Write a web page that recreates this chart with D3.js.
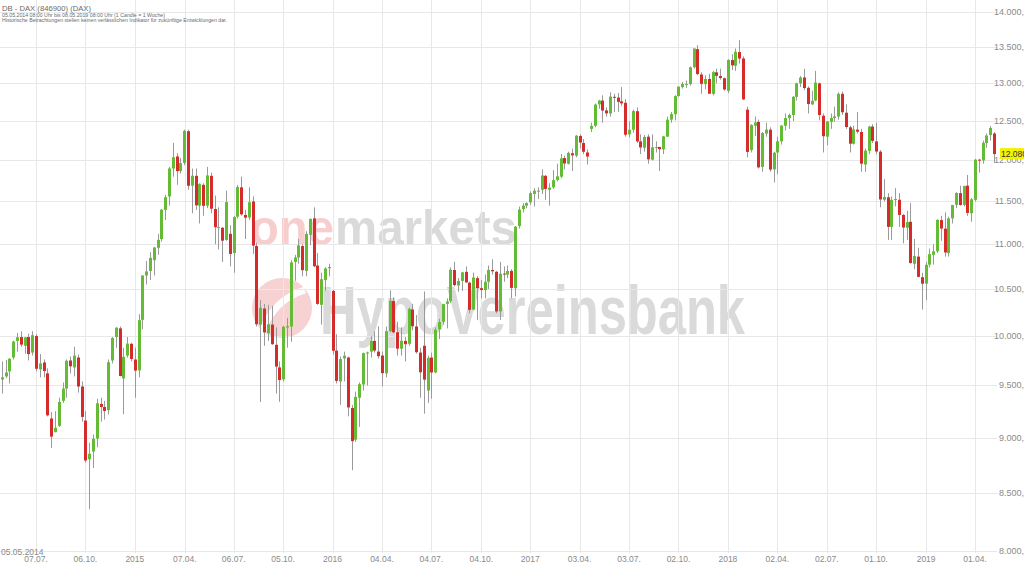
<!DOCTYPE html>
<html><head><meta charset="utf-8">
<script src="https://cdn.jsdelivr.net/npm/d3@7"></script>
<style>body{margin:0;background:#fff;overflow:hidden}svg{display:block}</style>
</head><body><svg id="c" width="1024" height="566"></svg>
<script>
// ---- data (weekly candles, DAX, 1 candle = 1 week) ----
const firstWeek = "2014-05-05";
const lastWeek = "2019-05-06";
const opens = [
9560,9590,9640,9780,9950,9990,9900,9990,9830,10000,9660,9730,9620,9180,9050,9110,9350,9470,9750,9680,9780,9490,9160,8800,8870,8990,9320,9290,9260,9750,9990,10080,9570,9800,9920,
9760,9650,10170,10650,10700,10820,10960,11060,11400,11560,11900,12050,11870,11970,12370,11690,11810,11450,11700,11450,11810,11410,11190,11190,11050,11120,10900,11320,11670,11340,11310,11500,10980,10120,10290,10030,10120,9910,9680,9560,10090,10100,10800,10850,10980,10700,11110,11300,10760,10330,10600,10730,
10480,9850,9540,9770,9780,9280,8980,9380,9510,9820,9840,9950,9840,9800,9620,10050,10370,10040,9870,9950,9920,10280,10100,9830,9900,9450,9780,9630,10070,10150,10340,10370,10710,10540,10590,10690,10570,10280,10620,10510,10490,10580,10710,10690,10260,10670,10660,10700,10510,11210,11410,11450,
11490,11590,11620,11640,11810,11640,11670,11760,11800,12030,11960,12090,12060,12310,12220,12100,12400,12440,12720,12770,12640,12600,12820,12810,12760,12740,12330,12390,12630,12240,12160,12300,12010,12160,12170,12140,12300,12520,12590,12830,12950,12990,12990,13220,13470,13120,12990,13060,12860,13150,13100,13070,
12900,13320,13240,13430,13340,12650,12130,12440,12490,11920,12340,12390,11890,12100,12240,12440,12540,12580,12820,13000,13080,12940,12720,12770,13000,12570,12300,12490,12540,12560,12860,12610,12420,12210,12390,12360,11950,12120,12430,12240,12110,11520,11550,11200,11520,11520,11340,11190,11260,10780,10860,10630,
10560,10770,10880,10920,11280,11180,10900,11300,11460,11600,11460,11690,11360,11520,12010,12000,12220,12320,12340];
const highs = [
9740,9754,9772,9953,10031,10050,9990,10025,10051,10020,9815,9760,9670,9240,9250,9380,9530,9760,9790,9890,9810,9540,9250,8950,9030,9370,9380,9350,9760,9990,10094,10100,9880,9990,9930,
9880,10230,10650,10810,10910,10970,11120,11410,11580,11920,12220,12090,12030,12390,12390,11900,11900,11720,11720,11920,11850,11570,11430,11200,11630,11220,11330,11700,11800,11400,11670,11560,11020,10380,10340,10330,10320,10090,9740,10110,10190,10820,10880,11060,11000,11150,11300,11430,10900,10680,10740,10780,
10490,10020,9790,9840,9790,9310,9440,9530,9830,9840,10000,10050,10100,9840,10100,10486,10410,10150,10090,9990,10300,10340,10220,9880,10474,9800,9830,10090,10180,10340,10400,10740,10800,10620,10690,10750,10580,10680,10640,10600,10660,10760,10830,10700,10800,10750,10760,10720,11210,11440,11480,11490,
11620,11660,11670,11890,11820,11720,11880,11960,12080,12060,12110,12150,12320,12330,12270,12140,12480,12730,12780,12840,12680,12880,12860,12870,12950,12790,12500,12650,12680,12330,12320,12330,12330,12240,12170,12310,12560,12620,12840,12960,13020,13040,13230,13480,13526,13150,13110,13130,13170,13200,13200,13080,
13330,13400,13480,13597,13370,12690,12460,12560,12520,12360,12480,12420,12110,12300,12450,12600,12600,12830,13010,13100,13200,12960,12900,13170,13010,12600,12500,12600,12690,12880,12890,12720,12440,12440,12620,12400,12150,12440,12460,12480,12130,11770,11600,11560,11660,11600,11350,11390,11480,11060,10960,10680,
10800,10950,11000,11290,11330,11370,11320,11460,11610,11690,11690,11820,11540,12020,12020,12250,12340,12436,12360];
const lows = [
9420,9574,9520,9760,9840,9890,9820,9750,9800,9640,9580,9580,9200,8903,9050,9100,9330,9380,9620,9590,9430,9150,8770,8355,8720,8910,9150,9170,9220,9720,9880,9590,9220,9780,9740,
9380,9580,10070,10550,10600,10650,10880,11030,11280,11450,11800,11700,11840,11940,11640,11360,11400,11240,11330,11420,11360,11000,10940,10800,11040,10750,10680,11300,11330,11060,11280,10890,10100,9338,9900,9950,9910,9420,9340,9540,9880,9940,10590,10780,10640,10640,10990,10740,10330,10120,10480,10640,
9810,9520,9310,9540,9200,8700,8960,9100,9450,9500,9780,9830,9770,9490,9580,10040,10030,9800,9800,9740,9900,10060,9820,9380,9226,9330,9370,9620,9970,10120,10080,10350,10530,10470,10480,10570,10240,10270,10170,10400,10400,10500,10660,10240,10170,10580,10620,10400,10420,11180,11370,11420,
11460,11440,11530,11590,11520,11450,11650,11740,11780,11890,11950,11870,12040,12150,12080,11950,12360,12420,12660,12480,12560,12560,12620,12620,12700,12300,12290,12350,12220,12080,12110,11960,12000,12100,11870,12080,12300,12480,12510,12820,12930,12940,12970,13200,13110,12860,12920,12860,12840,13000,13050,12900,
12870,13180,13170,13270,12780,12040,12100,12310,11900,11860,12300,11860,11730,11830,12200,12380,12400,12500,12770,12950,12910,12600,12710,12760,12510,12100,12190,12400,12490,12520,12580,12400,12100,12200,12340,11860,11860,12080,12220,12080,11430,11500,11050,11050,11440,11200,11010,11050,10780,10720,10630,10279,
10380,10740,10770,10900,11040,10860,10860,11240,11420,11450,11440,11330,11260,11500,11850,11960,12160,12250,11970];
const closes = [
9581,9629,9768,9943,9987,9912,9987,9815,10009,9666,9720,9644,9210,9009,9092,9339,9470,9747,9691,9799,9490,9195,8788,8850,8988,9326,9291,9252,9732,9980,10087,9594,9787,9922,9765,
9648,10167,10649,10694,10846,10963,11050,11402,11551,11901,12040,11868,11967,12375,11689,11811,11454,11709,11448,11815,11414,11197,11197,11041,11492,10890,11315,11673,11347,11308,11491,10985,10124,10298,10038,10123,9916,9688,9554,10096,10104,10795,10850,10988,10708,11119,11293,10752,10340,10608,10727,10743,
9849,9545,9764,9798,9286,8967,9388,9513,9824,9831,9950,9851,9794,9622,10051,10373,10039,9870,9952,9916,10287,10103,9834,9631,9558,9776,9629,10066,10147,10337,10367,10713,10544,10588,10684,10573,10276,10627,10511,10490,10580,10711,10696,10259,10668,10664,10699,10513,11203,11404,11450,11481,
11599,11629,11630,11814,11651,11666,11757,11804,12027,11963,12095,12064,12313,12225,12109,12049,12438,12717,12770,12638,12602,12823,12816,12753,12733,12325,12389,12632,12240,12163,12297,12014,12165,12168,12142,12304,12519,12592,12829,12956,12992,12991,13218,13479,13127,12994,13060,12861,13153,13103,13072,12918,
13320,13245,13434,13340,12785,12107,12452,12483,11914,12346,12390,11887,12097,12241,12442,12540,12581,12820,13001,13078,12938,12724,12767,13011,12580,12306,12496,12541,12561,12860,12616,12424,12211,12394,12364,11960,12124,12431,12247,12112,11524,11554,11201,11519,11529,11341,11193,11257,10788,10866,10634,10559,
10768,10888,10919,11282,11181,10907,11300,11457,11602,11458,11686,11364,11526,12010,11999,12222,12315,12412,12080];

const xTickDates = ["2014-07-07","2014-10-06","2015-01-05","2015-04-07","2015-07-06","2015-10-05","2016-01-04","2016-04-04","2016-07-04","2016-10-04","2017-01-02","2017-04-03","2017-07-03","2017-10-02","2018-01-01","2018-04-02","2018-07-02","2018-10-01","2019-01-01","2019-04-01"];
const xTickLabels = ["07.07.","06.10.","2015","07.04.","06.07.","05.10.","2016","04.04.","04.07.","04.10.","2017","03.04.","03.07.","02.10.","2018","02.04.","02.07.","01.10.","2019","01.04."];
const yTicks = [8000,8500,9000,9500,10000,10500,11000,11500,12000,12500,13000,13500,14000];
const yTickLabels = ["8.000,00","8.500,00","9.000,00","9.500,00","10.000,00","10.500,00","11.000,00","11.500,00","12.000,00","12.500,00","13.000,00","13.500,00","14.000,00"];
const lastPrice = 12080;
const lastPriceLabel = "12.080";
const titleLines = ["DB - DAX (846900) (DAX)",
  "05.05.2014 08:00 Uhr bis 08.05.2019 08:00 Uhr (1 Candle = 1 Woche)",
  "Historische Betrachtungen stellen keinen verlässlichen Indikator für zukünftige Entwicklungen dar."];

// ---- layout ----
const svg = d3.select("#c");
const font = "'Liberation Sans', Arial, sans-serif";
const parse = d3.utcParse("%Y-%m-%d");
const weeks = d3.utcMonday.range(parse(firstWeek), d3.utcDay.offset(parse(lastWeek), 1));
const candles = weeks.map((d, i) => ({d, o: opens[i], h: highs[i], l: lows[i], c: closes[i]}));

const x = d3.scaleUtc().domain([parse("2014-07-07"), parse("2019-04-01")]).range([36, 975]);
const y = d3.scaleLog().domain([8000, 14000]).range([551, 12]);
const plotRight = 997;

// watermark
const wm = svg.append("g");
wm.append("text").attr("x", 250).attr("y", 245).attr("font-family", font).attr("font-weight", "bold")
  .attr("font-size", 50).attr("fill", "#f7cdcd").attr("textLength", 84).attr("lengthAdjust", "spacingAndGlyphs").text("one");
wm.append("text").attr("x", 335).attr("y", 245).attr("font-family", font).attr("font-weight", "bold")
  .attr("font-size", 50).attr("fill", "#dadada").attr("textLength", 182).attr("lengthAdjust", "spacingAndGlyphs").text("markets");
wm.append("circle").attr("cx", 282).attr("cy", 308).attr("r", 30).attr("fill", "#f7d2d2");
wm.append("path").attr("d", "M262,332 C270,310 285,296 305,290").attr("stroke", "#fff").attr("stroke-width", 7).attr("fill", "none");
wm.append("text").attr("x", 320).attr("y", 334).attr("font-family", font).attr("font-weight", "bold")
  .attr("font-size", 68).attr("fill", "#dadada").attr("textLength", 425).attr("lengthAdjust", "spacingAndGlyphs").text("HypoVereinsbank");

// grid
const grid = svg.append("g").attr("stroke", "#e8e8e8").attr("stroke-width", 1);
grid.selectAll("line.h").data(yTicks).join("line")
  .attr("x1", 0).attr("x2", plotRight).attr("y1", d => Math.round(y(d)) + 0.5).attr("y2", d => Math.round(y(d)) + 0.5);
grid.selectAll("line.v").data(xTickDates).join("line")
  .attr("x1", d => Math.round(x(parse(d))) + 0.5).attr("x2", d => Math.round(x(parse(d))) + 0.5)
  .attr("y1", 0).attr("y2", 553);

// axes labels
const yAxis = svg.append("g").attr("font-family", font).attr("font-size", 9).attr("fill", "#8a8a8a");
yAxis.selectAll("text").data(yTicks).join("text")
  .attr("x", 1034).attr("y", d => y(d) + 3).attr("text-anchor", "end")
  .text((d, i) => yTickLabels[i]);
const xAxis = svg.append("g").attr("font-family", font).attr("font-size", 8.5).attr("fill", "#8a8a8a");
xAxis.selectAll("text").data(xTickDates).join("text")
  .attr("x", d => x(parse(d))).attr("y", 562).attr("text-anchor", "middle")
  .text((d, i) => xTickLabels[i]);
xAxis.append("text").attr("x", 1).attr("y", 555).text("05.05.2014");

// candles
const cg = svg.append("g");
const cx = d => Math.round(x(d.d));
cg.selectAll("line").data(candles).join("line")
  .attr("x1", d => cx(d) + 0.5).attr("x2", d => cx(d) + 0.5)
  .attr("y1", d => y(d.h)).attr("y2", d => y(d.l))
  .attr("stroke", "#9a9a9a").attr("stroke-width", 1);
cg.selectAll("rect").data(candles).join("rect")
  .attr("x", d => cx(d) - 1).attr("width", 3)
  .attr("y", d => y(Math.max(d.o, d.c)))
  .attr("height", d => Math.max(1, Math.abs(y(d.o) - y(d.c))))
  .attr("fill", d => d.c >= d.o ? "#63bb36" : "#d62b2b");

// last price marker
const ly = y(lastPrice);
svg.append("rect").attr("x", 1000).attr("y", ly - 6).attr("width", 24).attr("height", 11).attr("fill", "#f2f200");
svg.append("text").attr("x", 1001).attr("y", ly + 3).attr("font-family", font).attr("font-size", 8.5).attr("fill", "#333").text(lastPriceLabel);

// title
const t = svg.append("g").attr("font-family", font).attr("fill", "#6a6a6a");
t.append("text").attr("x", 2).attr("y", 11).attr("font-size", 7.5).attr("textLength", 89).attr("lengthAdjust", "spacingAndGlyphs").text(titleLines[0]);
t.append("text").attr("x", 2).attr("y", 16.5).attr("font-size", 5).attr("textLength", 163).attr("lengthAdjust", "spacingAndGlyphs").text(titleLines[1]);
t.append("text").attr("x", 2).attr("y", 22).attr("font-size", 5).attr("textLength", 225).attr("lengthAdjust", "spacingAndGlyphs").text(titleLines[2]);
</script></body></html>
